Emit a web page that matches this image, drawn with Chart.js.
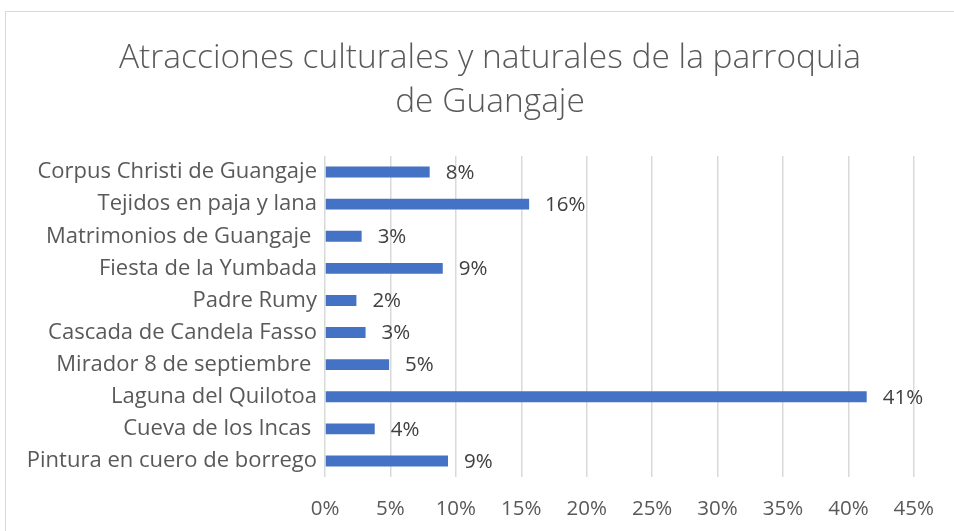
<!DOCTYPE html>
<html>
<head>
<meta charset="utf-8">
<script src="https://cdn.jsdelivr.net/npm/chart.js@4.4.0/dist/chart.umd.min.js"></script>
<style>
  html, body { margin: 0; padding: 0; background: #fff; }
  #wrap { position: relative; width: 954px; height: 531px; overflow: hidden; }
  #frame { position: absolute; left: 5px; top: 11px; width: 980px; height: 540px; border: 1px solid #d9d9d9; }
  canvas { position: absolute; left: 0; top: 0; }
</style>
</head>
<body>
<div id="wrap">
  <div id="frame"></div>
  <canvas id="myChart" width="954" height="531"></canvas>
</div>
<script>
// categories, top to bottom
const categories = [
  'Corpus Christi de Guangaje',
  'Tejidos en paja y lana',
  'Matrimonios de Guangaje ',
  'Fiesta de la Yumbada',
  'Padre Rumy',
  'Cascada de Candela Fasso',
  'Mirador 8 de septiembre ',
  'Laguna del Quilotoa',
  'Cueva de los Incas ',
  'Pintura en cuero de borrego'
];
// share of visitors, in percent
const shares = [8.0, 15.6, 2.8, 9.0, 2.4, 3.1, 4.9, 41.4, 3.8, 9.4];
const titleLines = ['Atracciones culturales y naturales de la parroquia', 'de Guangaje'];

const textColor = '#595959';
const labelFont = '"Open Sans", sans-serif';

// title drawn by hand so it can sit centred on the frame, not the canvas
const titlePlugin = {
  id: 'titleLines',
  afterDraw(chart) {
    const ctx = chart.ctx;
    ctx.save();
    ctx.fillStyle = textColor;
    ctx.font = '300 33.5px ' + labelFont;
    ctx.textAlign = 'center';
    ctx.textBaseline = 'middle';
    ctx.fillText(titleLines[0], 490, 58);
    ctx.fillText(titleLines[1], 490, 102);
    ctx.restore();
  }
};

// value labels at the end of each bar
const valueLabels = {
  id: 'valueLabels',
  afterDatasetsDraw(chart) {
    const ctx = chart.ctx;
    const meta = chart.getDatasetMeta(0);
    ctx.save();
    ctx.fillStyle = '#404040';
    ctx.font = '20.5px ' + labelFont;
    ctx.textAlign = 'left';
    ctx.textBaseline = 'middle';
    meta.data.forEach((bar, i) => {
      ctx.fillText(Math.round(shares[i]) + '%', bar.x + 16, bar.y + 1);
    });
    ctx.restore();
  }
};

const ctx = document.getElementById('myChart').getContext('2d');
new Chart(ctx, {
  type: 'bar',
  data: {
    labels: categories,
    datasets: [{
      data: shares,
      backgroundColor: '#4472C4',
      barPercentage: 0.34,
      categoryPercentage: 1
    }]
  },
  options: {
    indexAxis: 'y',
    responsive: false,
    animation: false,
    layout: { padding: { top: 156, right: 31, bottom: 0, left: 0 } },
    plugins: {
      legend: { display: false },
      tooltip: { enabled: false }
    },
    scales: {
      x: {
        min: 0,
        max: 45,
        ticks: {
          stepSize: 5,
          color: textColor,
          font: { family: labelFont, size: 20.5 },
          padding: 20,
          callback: (v) => v + '%'
        },
        grid: { color: '#d9d9d9', lineWidth: 1.5, drawTicks: false },
        border: { display: false },
        afterFit: (s) => { s.height = 54; }
      },
      y: {
        ticks: {
          color: textColor,
          font: { family: labelFont, size: 22 },
          padding: 8,
          autoSkip: false
        },
        grid: { display: false, drawTicks: false },
        border: { display: false },
        afterFit: (s) => { s.width = 325; }
      }
    }
  },
  plugins: [titlePlugin, valueLabels]
});
</script>
</body>
</html>
